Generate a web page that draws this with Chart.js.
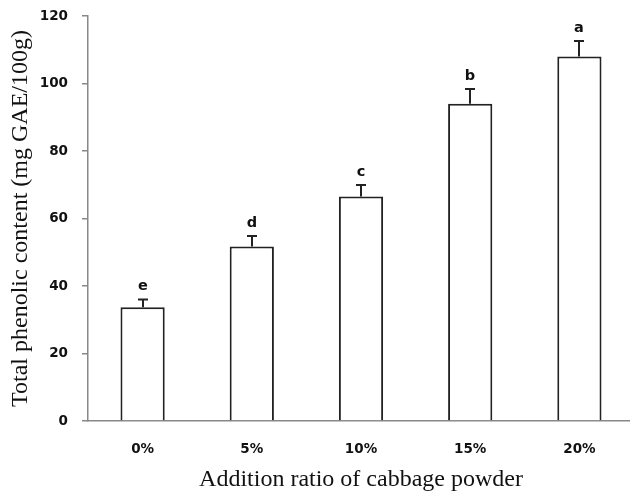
<!DOCTYPE html>
<html>
<head>
<meta charset="utf-8">
<script src="https://cdn.jsdelivr.net/npm/chart.js@4"></script>
<style>
    html, body { margin: 0; padding: 0; background: #fff; overflow: hidden; }
    #wrap { width: 640px; height: 492px; }
</style>
</head>
<body>
<div id="wrap"><canvas id="phenolic-chart" width="640" height="492"></canvas></div>
<script>
// Data
const categories = ['0%', '5%', '10%', '15%', '20%'];
const means = [33.7, 51.7, 66.5, 94.0, 108.0];
const errors = [2.3, 3.1, 3.4, 4.4, 4.6];
const letters = ['e', 'd', 'c', 'b', 'a'];
const yTicks = [0, 20, 40, 60, 80, 100, 120];

const tickFont = { family: 'DejaVu Sans', size: 13.5, weight: 'bold' };
const titleFont = { family: 'Liberation Serif', size: 24, lineHeight: 1 };

// error bars + significance letters
const errorBarPlugin = {
    id: 'errorBars',
    afterDatasetsDraw(chart) {
        const ctx = chart.ctx;
        const x = chart.scales.x;
        const y = chart.scales.y;
        ctx.save();
        ctx.strokeStyle = '#222';
        ctx.lineWidth = 2;
        ctx.fillStyle = '#111';
        ctx.font = 'bold 14.5px "DejaVu Sans"';
        ctx.textAlign = 'center';
        ctx.textBaseline = 'middle';
        means.forEach((m, i) => {
            const cx = Math.round(x.getPixelForValue(i));
            const y0 = y.getPixelForValue(m);
            const y1 = y.getPixelForValue(m + errors[i]);
            ctx.beginPath();
            ctx.moveTo(cx, y0);
            ctx.lineTo(cx, y1);
            ctx.moveTo(cx - 5, y1);
            ctx.lineTo(cx + 5, y1);
            ctx.stroke();
            ctx.fillText(letters[i], cx, y1 - 13);
        });
        ctx.restore();
    }
};

new Chart(document.getElementById('phenolic-chart'), {
    type: 'bar',
    data: {
        labels: categories,
        datasets: [{
            data: means,
            backgroundColor: '#ffffff',
            borderColor: '#222222',
            borderWidth: 2,
            categoryPercentage: 1.0,
            barPercentage: 0.405
        }]
    },
    options: {
        responsive: false,
        animation: false,
        layout: { padding: { top: 16, right: 6, left: 0, bottom: 0 } },
        plugins: {
            legend: { display: false },
            tooltip: { enabled: false }
        },
        scales: {
            x: {
                grid: { display: false },
                border: { display: true, color: '#888', width: 1.5 },
                ticks: { font: tickFont, color: '#111', padding: 12 },
                title: {
                    display: true,
                    text: 'Addition ratio of cabbage powder',
                    font: titleFont,
                    color: '#111',
                    padding: { top: 0, bottom: 0 }
                },
                afterFit(scale) { scale.height = 71; }
            },
            y: {
                min: 0,
                max: 120,
                afterBuildTicks(scale) {
                    scale.ticks = yTicks.map(v => ({ value: v }));
                },
                grid: { drawOnChartArea: false, drawTicks: true, tickLength: 6, color: '#888', lineWidth: 1.5 },
                border: { display: true, color: '#888', width: 1.5 },
                ticks: { font: tickFont, color: '#111', padding: 14 },
                title: {
                    display: true,
                    text: 'Total phenolic content (mg GAE/100g)',
                    font: titleFont,
                    color: '#111',
                    padding: { top: 9, bottom: 0 }
                },
                afterFit(scale) {
                    scale.width = 88;
                    scale.paddingTop = 0;
                    scale.paddingBottom = 0;
                }
            }
        }
    },
    plugins: [errorBarPlugin]
});
</script>
</body>
</html>
